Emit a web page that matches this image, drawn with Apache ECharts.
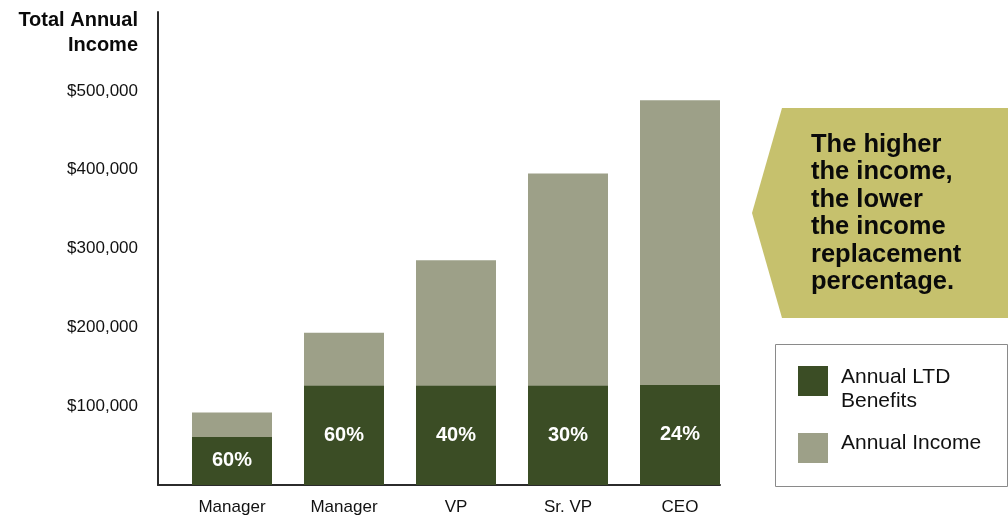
<!DOCTYPE html>
<html><head><meta charset="utf-8">
<script src="https://cdn.jsdelivr.net/npm/echarts@6/dist/echarts.min.js"></script>
<style>html,body{margin:0;padding:0;background:#fff}#c{width:1008px;height:519px}</style>
</head><body><div id="c"></div>
<script>
const categories = ['Manager', 'Manager', 'VP', 'Sr. VP', 'CEO'];
const annualIncome = [92000, 193000, 285000, 395000, 488000];
const ltdBenefits = [61000, 126000, 126000, 126000, 127000];
const replacementPct = ['60%', '60%', '40%', '30%', '24%'];
const yTickLabels = ['$100,000', '$200,000', '$300,000', '$400,000', '$500,000'];
const yTickValues = [100000, 200000, 300000, 400000, 500000];
const yAxisTitle = 'Total Annual\nIncome';
const calloutText = 'The higher\nthe income,\nthe lower\nthe income\nreplacement\npercentage.';
const legendLtd = 'Annual LTD Benefits';
const legendLtdLines = ['Annual LTD', 'Benefits'];
const legendIncome = 'Annual Income';

const FONT = 'Liberation Sans, Arial, Helvetica, sans-serif';
const DARK = '#3B4D25';
const GRAY = '#9DA088';
const chart = echarts.init(document.getElementById('c'), null, {renderer: 'canvas'});

const legendText = {fontFamily: FONT, fontSize: 21, color: '#111', lineHeight: 24};

chart.setOption({
  animation: false,
  backgroundColor: '#ffffff',
  textStyle: {fontFamily: FONT},
  grid: [
    {left: 176, top: 12, width: 560, height: 473, containLabel: false},
    {left: 158, top: 12, width: 562, height: 473, containLabel: false}
  ],
  xAxis: [
    {
      type: 'category', gridIndex: 0, data: categories,
      axisLine: {show: false}, axisTick: {show: false},
      axisLabel: {fontFamily: FONT, fontSize: 17, color: '#111', margin: 14}
    },
    {
      type: 'value', gridIndex: 1, min: 0, max: 1,
      axisLine: {show: true, onZero: false, lineStyle: {color: '#2b2b2b', width: 2}},
      axisTick: {show: false}, axisLabel: {show: false}, splitLine: {show: false}
    }
  ],
  yAxis: [
    {
      type: 'value', gridIndex: 0, min: 0, max: 600000, interval: 100000, offset: 18,
      axisLine: {show: true, lineStyle: {color: '#2b2b2b', width: 2}},
      axisTick: {show: false}, splitLine: {show: false},
      axisLabel: {
        fontFamily: FONT, fontSize: 17, color: '#111', margin: 20, padding: [0, 0, 5, 0],
        formatter: function (v) {
          const i = yTickValues.indexOf(v);
          return i >= 0 ? yTickLabels[i] : '';
        }
      }
    },
    {
      type: 'value', gridIndex: 1, min: 0, max: 1, show: false
    }
  ],
  legend: [
    {
      data: [legendLtd],
      left: 798, top: 349, padding: 0, itemWidth: 30, itemHeight: 30,
      icon: 'rect', selectedMode: false,
      formatter: function () {
        return '{s| }\n{t|' + legendLtdLines[0] + '}\n{t|' + legendLtdLines[1] + '}';
      },
      textStyle: Object.assign({}, legendText, {
        rich: {
          s: {fontFamily: FONT, fontSize: 10, lineHeight: 16},
          t: Object.assign({}, legendText, {padding: [0, 0, 0, 8]})
        }
      })
    },
    {
      data: [legendIncome],
      left: 798, top: 431, padding: 0, itemWidth: 30, itemHeight: 30,
      icon: 'rect', selectedMode: false,
      formatter: function (name) { return '{t|' + name + '}\n{s| }'; },
      textStyle: Object.assign({}, legendText, {
        rich: {
          s: {fontFamily: FONT, fontSize: 8, lineHeight: 10},
          t: Object.assign({}, legendText, {padding: [0, 0, 0, 8]})
        }
      })
    }
  ],
  graphic: [
    {
      type: 'text', x: 138, y: 8, z: 10,
      style: {text: yAxisTitle, align: 'right', verticalAlign: 'top', fontFamily: FONT, fontSize: 20, fontWeight: 'bold', fill: '#0a0a0a', lineHeight: 25}
    },
    {
      type: 'polygon', silent: true, z: 0,
      shape: {points: [[782, 108], [1008, 108], [1008, 318], [782, 318], [752, 213]]},
      style: {fill: '#C6C16D'}
    },
    {
      type: 'text', x: 811, y: 131, z: 10,
      style: {text: calloutText, fontFamily: FONT, fontSize: 25.5, fontWeight: 'bold', fill: '#0a0a0a', lineHeight: 27.5}
    },
    {
      type: 'rect', silent: true, z: 0,
      shape: {x: 775.5, y: 344.5, width: 232, height: 142},
      style: {fill: 'none', stroke: '#8a8a8a', lineWidth: 1}
    }
  ],
  series: [
    {
      name: legendIncome, type: 'bar', xAxisIndex: 0, yAxisIndex: 0,
      data: annualIncome, barWidth: 80, barGap: '-100%',
      itemStyle: {color: GRAY}
    },
    {
      name: legendLtd, type: 'bar', xAxisIndex: 0, yAxisIndex: 0,
      data: ltdBenefits, barWidth: 80, barGap: '-100%',
      itemStyle: {color: DARK},
      label: {
        show: true, position: 'inside', color: '#ffffff',
        fontFamily: FONT, fontSize: 20, fontWeight: 'bold',
        formatter: function (p) { return replacementPct[p.dataIndex]; }
      }
    }
  ]
});
</script></body></html>
